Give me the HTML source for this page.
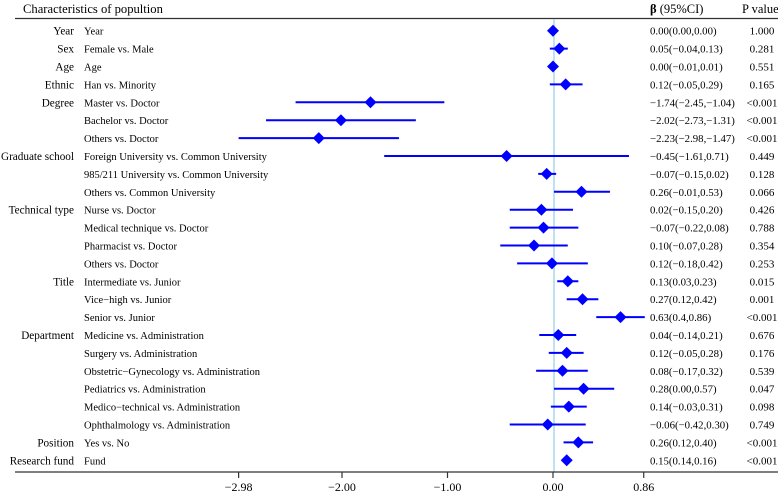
<!DOCTYPE html>
<html><head><meta charset="utf-8"><style>
body{margin:0;background:#fff}
svg{display:block;font-family:"Liberation Serif",serif}
</style></head><body>
<svg id="chart" width="778" height="493" viewBox="0 0 778 493" xmlns="http://www.w3.org/2000/svg">
<text x="23" y="13" font-size="12.6">Characteristics of popultion</text>
<text x="650" y="13" font-size="12.5"><tspan font-weight="bold">β</tspan> (95%CI)</text>
<text x="742" y="13" font-size="12.5">P value</text>
<line x1="15" y1="18.5" x2="778" y2="18.5" stroke="#333" stroke-width="1.2"/>
<line x1="554" y1="19" x2="554" y2="472" stroke="#a8d8ee" stroke-width="1.5"/>
<g id="rows"></g>
<line x1="15" y1="472" x2="778" y2="472" stroke="#333" stroke-width="1.2"/>
<g id="ticks"></g>
</svg>
<script>
const groups = ["Year","Sex","Age","Ethnic","Degree","","","Graduate school","","","Technical type","","","","Title","","","Department","","","","","","Position","Research fund"];
const labels = ["Year","Female vs. Male","Age","Han vs.  Minority","Master vs. Doctor","Bachelor vs. Doctor","Others  vs. Doctor","Foreign University vs. Common University","985/211 University vs. Common University","Others vs. Common University","Nurse vs. Doctor","Medical technique vs. Doctor","Pharmacist vs. Doctor","Others vs. Doctor","Intermediate vs. Junior","Vice\u2212high vs. Junior","Senior vs. Junior","Medicine vs. Administration","Surgery vs. Administration","Obstetric\u2212Gynecology vs. Administration","Pediatrics vs. Administration","Medico\u2212technical vs. Administration","Ophthalmology vs. Administration","Yes vs. No","Fund"];
const estimates = [0.00,0.06,0.00,0.12,-1.73,-2.01,-2.22,-0.44,-0.06,0.27,-0.11,-0.09,-0.18,-0.01,0.14,0.28,0.64,0.05,0.13,0.09,0.29,0.15,-0.05,0.24,0.13];
const lowers = [0.00,-0.03,0.00,-0.03,-2.44,-2.72,-2.98,-1.60,-0.14,0.01,-0.41,-0.41,-0.50,-0.34,0.04,0.13,0.41,-0.13,-0.04,-0.16,0.01,-0.02,-0.41,0.10,0.13];
const uppers = [0.00,0.14,0.00,0.28,-1.03,-1.30,-1.46,0.72,0.03,0.54,0.19,0.24,0.14,0.33,0.24,0.43,0.87,0.22,0.29,0.33,0.58,0.32,0.31,0.38,0.13];
const ciText = ["0.00(0.00,0.00)","0.05(\u22120.04,0.13)","0.00(\u22120.01,0.01)","0.12(\u22120.05,0.29)","\u22121.74(\u22122.45,\u22121.04)","\u22122.02(\u22122.73,\u22121.31)","\u22122.23(\u22122.98,\u22121.47)","\u22120.45(\u22121.61,0.71)","\u22120.07(\u22120.15,0.02)","0.26(\u22120.01,0.53)","0.02(\u22120.15,0.20)","\u22120.07(\u22120.22,0.08)","0.10(\u22120.07,0.28)","0.12(\u22120.18,0.42)","0.13(0.03,0.23)","0.27(0.12,0.42)","0.63(0.4,0.86)","0.04(\u22120.14,0.21)","0.12(\u22120.05,0.28)","0.08(\u22120.17,0.32)","0.28(0.00,0.57)","0.14(\u22120.03,0.31)","\u22120.06(\u22120.42,0.30)","0.26(0.12,0.40)","0.15(0.14,0.16)"];
const pText = ["1.000","0.281","0.551","0.165","<0.001","<0.001","<0.001","0.449","0.128","0.066","0.426","0.788","0.354","0.253","0.015","0.001","<0.001","0.676","0.176","0.539","0.047","0.098","0.749","<0.001","<0.001"];
const tickValues = [-2.98,-2.00,-1.00,0.00,0.86];
const tickLabels = ["\u22122.98","\u22122.00","\u22121.00","0.00","0.86"];

const NS="http://www.w3.org/2000/svg";
const xScale = v => 553 + v*105.5;
const yScale = i => 30.7 + i*17.9;
function mk(tag, attrs, parent, txt){const e=document.createElementNS(NS,tag);for(const k in attrs)e.setAttribute(k,attrs[k]);if(txt!==undefined)e.textContent=txt;parent.appendChild(e);return e;}
const rows=document.getElementById('rows');
labels.forEach((lab,i)=>{
  const y=yScale(i);
  if(groups[i]){const g=mk('text',{x:74,y:y+4,'font-size':11.2,'text-anchor':'end'},rows,groups[i]);
    
    }
  const t=mk('text',{x:84,y:y+4,'font-size':10.5},rows,lab);
  
  
  const l=mk('line',{x1:xScale(lowers[i]),x2:xScale(uppers[i]),y1:y,y2:y,stroke:'#0000ff','stroke-width':2},rows);
  
  
  const cx=xScale(estimates[i]),r=6;
  const d=mk('polygon',{points:`${cx},${y-r} ${cx+r},${y} ${cx},${y+r} ${cx-r},${y}`,fill:'#0000ff'},rows);
  
  
  const c=mk('text',{x:650,y:y+4,'font-size':10.8},rows,ciText[i]);
  
  
  const p=mk('text',{x:762,y:y+4,'font-size':11,'text-anchor':'middle'},rows,pText[i]);
  
  
});
const ticks=document.getElementById('ticks');
tickValues.forEach((v,i)=>{
  const x=xScale(v);
  const tl=mk('line',{x1:x,x2:x,y1:472,y2:478,stroke:'#333','stroke-width':1.2},ticks);
  
  
  const tt=mk('text',{x:x,y:491,'font-size':12,'text-anchor':'middle'},ticks,tickLabels[i]);
  
  
});
</script>
</body></html>
